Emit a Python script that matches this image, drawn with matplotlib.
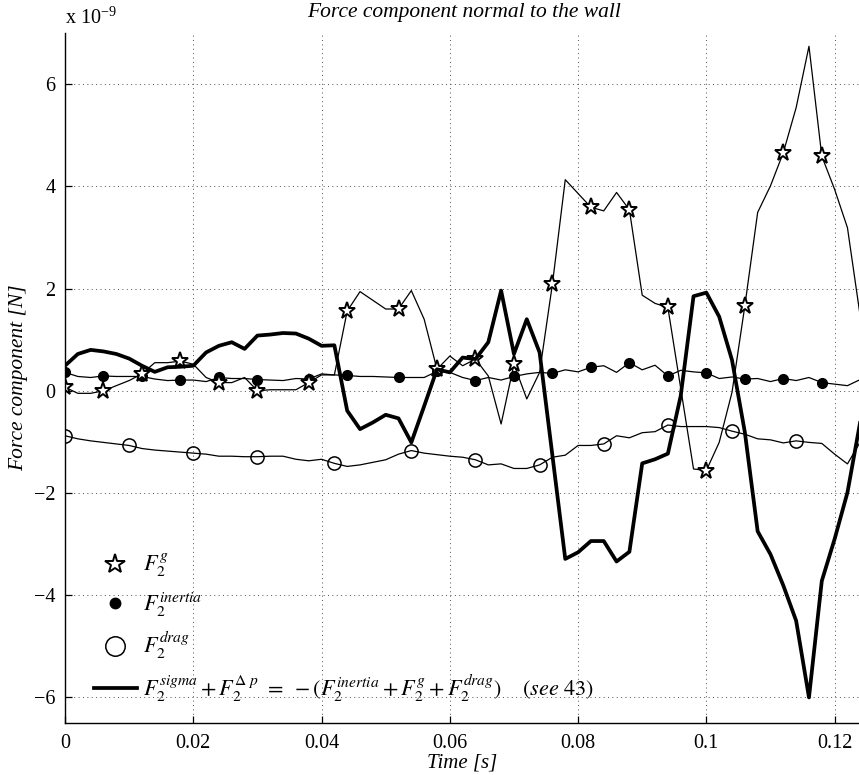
import matplotlib
matplotlib.use("Agg")
import matplotlib.pyplot as plt
from matplotlib.lines import Line2D
import numpy as np

plt.rcParams["font.family"] = ["Liberation Serif", "DejaVu Serif"]
plt.rcParams["mathtext.fontset"] = "stix"

# sample times in ms (2 ms step)
time_ms = [0, 2, 4, 6, 8, 10, 12, 14, 16, 18, 20, 22, 24, 26, 28, 30, 32, 34, 36, 38,
           40, 42, 44, 46, 48, 50, 52, 54, 56, 58, 60, 62, 64, 66, 68, 70, 72, 74, 76, 78,
           80, 82, 84, 86, 88, 90, 92, 94, 96, 98, 100, 102, 104, 106, 108, 110, 112, 114,
           116, 118, 120, 122, 124]

# force components in units of 1e-9 N
f_g = [0.07, -0.05, -0.05, 0.0, 0.1, 0.2, 0.33, 0.55, 0.55, 0.58, 0.52, 0.26, 0.16, 0.16,
       0.26, 0.0, 0.02, 0.02, 0.02, 0.16, 0.31, 0.31, 1.56, 1.94, 1.77, 1.60, 1.60, 1.96,
       1.40, 0.42, 0.68, 0.49, 0.62, 0.29, -0.65, 0.52, -0.16, 0.36, 2.09, 4.13, 3.86, 3.59,
       3.52, 3.88, 3.54, 1.87, 1.71, 1.63, 0.05, -1.53, -1.56, -1.01, -0.03, 1.66, 3.49,
       4.01, 4.66, 5.54, 6.74, 4.59, 3.94, 3.19, 1.45]

f_inertia = [0.36, 0.28, 0.26, 0.29, 0.28, 0.28, 0.28, 0.23, 0.20, 0.21, 0.21, 0.18, 0.26,
             0.24, 0.24, 0.22, 0.21, 0.20, 0.24, 0.23, 0.33, 0.31, 0.30, 0.28, 0.28, 0.27,
             0.26, 0.26, 0.26, 0.38, 0.36, 0.26, 0.20, 0.26, 0.21, 0.28, 0.33, 0.36, 0.34,
             0.41, 0.37, 0.46, 0.49, 0.36, 0.55, 0.41, 0.50, 0.29, 0.40, 0.37, 0.35, 0.24,
             0.27, 0.23, 0.24, 0.18, 0.24, 0.20, 0.26, 0.16, 0.13, 0.10, 0.22]

f_drag = [-0.88, -0.94, -0.98, -1.01, -1.04, -1.07, -1.13, -1.16, -1.18, -1.20, -1.22,
          -1.24, -1.28, -1.28, -1.29, -1.29, -1.28, -1.28, -1.34, -1.37, -1.34, -1.42,
          -1.48, -1.45, -1.40, -1.35, -1.24, -1.17, -1.22, -1.25, -1.28, -1.30, -1.35,
          -1.45, -1.43, -1.52, -1.52, -1.45, -1.30, -1.26, -1.07, -1.07, -1.04, -0.88,
          -0.92, -0.82, -0.80, -0.67, -0.70, -0.70, -0.70, -0.72, -0.79, -0.85, -0.94,
          -0.96, -1.02, -0.98, -1.01, -1.03, -1.24, -1.43, -1.0]

f_sigma_dp = [0.49, 0.72, 0.80, 0.77, 0.72, 0.63, 0.49, 0.37, 0.46, 0.47, 0.49, 0.75, 0.88,
              0.95, 0.82, 1.08, 1.10, 1.13, 1.12, 1.02, 0.88, 0.89, -0.39, -0.75, -0.62,
              -0.47, -0.54, -1.01, -0.30, 0.42, 0.36, 0.65, 0.62, 0.95, 1.96, 0.72, 1.40,
              0.75, -1.27, -3.29, -3.16, -2.94, -2.94, -3.34, -3.15, -1.42, -1.34, -1.23,
              -0.10, 1.85, 1.92, 1.45, 0.60, -0.81, -2.75, -3.20, -3.81, -4.50, -6.00,
              -3.72, -2.90, -1.99, -0.60]

# which samples carry a marker
star_idx = [0, 3, 6, 9, 12, 15, 19, 22, 26, 29, 32, 35, 38, 41, 44, 47, 50, 53, 56, 59]
drag_idx = [0, 5, 10, 15, 21, 27, 32, 37, 42, 47, 52, 57]

t = np.array(time_ms) / 1000.0
scale = 1e-9

fig = plt.figure(figsize=(8.59, 7.75), dpi=100)
ax = fig.add_axes([65 / 859, 1 - 723 / 775, 1 - 65 / 859, (723 - 33) / 775])

ax.plot(t, np.array(f_drag) * scale, color="black", lw=0.9, marker="o", ms=9.5,
        mfc="none", mec="black", mew=1.1, markevery=drag_idx)
ax.plot(t, np.array(f_inertia) * scale, color="black", lw=0.9, marker="o", ms=7,
        mfc="black", mec="black", markevery=star_idx)
ax.plot(t, np.array(f_g) * scale, color="black", lw=0.9, marker="*", ms=12.5,
        mfc="white", mec="black", mew=1.4, markevery=star_idx)
ax.plot(t, np.array(f_sigma_dp) * scale, color="black", lw=2.7)

ax.set_xlim(0, 0.1238)
ax.set_ylim(-6.5e-9, 7e-9)
ax.set_xticks([0, 0.02, 0.04, 0.06, 0.08, 0.1, 0.12])
ax.set_xticklabels(["0", "0.02", "0.04", "0.06", "0.08", "0.1", "0.12"])
ax.set_yticks(np.array([-6, -4, -2, 0, 2, 4, 6]) * scale)
ax.set_yticklabels(["\u22126", "\u22124", "\u22122", "0", "2", "4", "6"])
ax.tick_params(direction="in", length=5, width=0.9, labelsize=14.5)
ax.tick_params(axis="x", pad=8)
ax.tick_params(axis="y", pad=7)
ax.grid(True, color="0.3", linestyle=(0, (1, 3.5)), linewidth=0.7)
for side in ("top", "right"):
    ax.spines[side].set_visible(False)
for side in ("left", "bottom"):
    ax.spines[side].set_linewidth(1.0)

ax.set_xlabel("Time [s]", fontsize=15, fontstyle="italic", labelpad=0)
ax.set_ylabel("Force component [N]", fontsize=15.5, fontstyle="italic", labelpad=4)
fig.text(464 / 859, 1 - 12 / 775, "Force component normal to the wall", fontsize=15.5,
         fontstyle="italic", ha="center", va="center")
fig.text(65 / 859, 1 - 18 / 775, "x 10$^{\\mathregular{\u22129}}$", fontsize=14.5,
         ha="left", va="center")

handles = [
    Line2D([], [], linestyle="none", marker="*", ms=15, mfc="white", mec="black", mew=1.4),
    Line2D([], [], linestyle="none", marker="o", ms=7.5, mfc="black", mec="black"),
    Line2D([], [], linestyle="none", marker="o", ms=14, mfc="none", mec="black", mew=1.1),
    Line2D([], [], color="black", lw=2.7),
]
labels = [
    r"$F_2^{g}$",
    r"$F_2^{inertia}$",
    r"$F_2^{drag}$",
    r"$F_2^{sigma} + F_2^{\Delta\ p}\ =\ -(F_2^{inertia} + F_2^{g} + F_2^{drag})$"
    r"$\quad$ $\it{(see\ 43)}$",
]
ax.legend(handles, labels, loc="lower left", bbox_to_anchor=(0.025, 0.015), frameon=False,
          fontsize=16, handlelength=1.95, handletextpad=0.25, labelspacing=0.5,
          borderaxespad=0.0)

fig.savefig("out.png", dpi=100)
